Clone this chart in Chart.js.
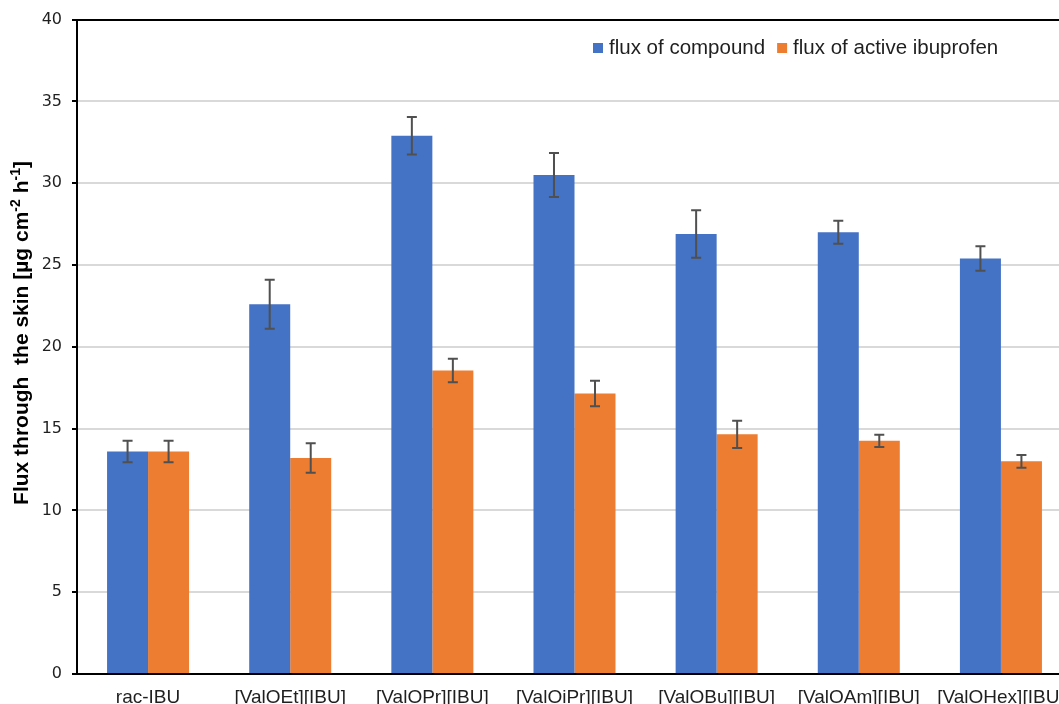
<!DOCTYPE html>
<html>
<head>
<meta charset="utf-8">
<script src="https://cdn.jsdelivr.net/npm/chart.js@4.4.1/dist/chart.umd.min.js"></script>
<style>
  html, body { margin: 0; padding: 0; background: #fff; overflow: hidden; }
  #wrap { width: 1080px; height: 704px; }
</style>
</head>
<body>
<div id="wrap"><canvas id="c" width="1080" height="704"></canvas></div>
<script>
const categories = ['rac-IBU', '[ValOEt][IBU]', '[ValOPr][IBU]', '[ValOiPr][IBU]', '[ValOBu][IBU]', '[ValOAm][IBU]', '[ValOHex][IBU]'];
const compoundFlux = [13.6, 22.6, 32.9, 30.5, 26.9, 27.0, 25.4];
const compoundErr  = [0.65, 1.5, 1.15, 1.35, 1.45, 0.7, 0.75];
const ibuFlux      = [13.6, 13.2, 18.55, 17.15, 14.65, 14.25, 13.0];
const ibuErr       = [0.65, 0.9, 0.72, 0.78, 0.83, 0.38, 0.39];
const seriesNames  = ['flux of compound', 'flux of active ibuprofen'];
const yTicks       = [0, 5, 10, 15, 20, 25, 30, 35, 40];

const BLUE = '#4472C4';
const ORANGE = '#ED7D31';
const TEXT = '#1f1f1f';

// Symmetric error bars drawn from each bar's own scale position
const errorBars = {
  id: 'errorBars',
  afterDatasetsDraw(chart) {
    const { ctx } = chart;
    const y = chart.scales.y;
    ctx.save();
    ctx.strokeStyle = '#505050';
    ctx.lineWidth = 2;
    chart.data.datasets.forEach((ds, di) => {
      const meta = chart.getDatasetMeta(di);
      meta.data.forEach((bar, i) => {
        const v = ds.data[i], e = ds.errors[i];
        const yt = y.getPixelForValue(v + e), yb = y.getPixelForValue(v - e);
        const x = bar.x, cap = 5;
        ctx.beginPath();
        ctx.moveTo(x, yt); ctx.lineTo(x, yb);
        ctx.moveTo(x - cap, yt); ctx.lineTo(x + cap, yt);
        ctx.moveTo(x - cap, yb); ctx.lineTo(x + cap, yb);
        ctx.stroke();
      });
    });
    ctx.restore();
  }
};

// Legend inside the plot area, top right
const insideLegend = {
  id: 'insideLegend',
  afterDraw(chart) {
    const { ctx } = chart;
    ctx.save();
    ctx.font = '20.5px "Liberation Sans", Arial, sans-serif';
    ctx.textBaseline = 'middle';
    ctx.fillStyle = TEXT;
    let x = 593;
    const yMid = 48;
    chart.data.datasets.forEach((ds) => {
      ctx.fillStyle = ds.backgroundColor;
      ctx.fillRect(x, yMid - 5, 10, 10);
      ctx.fillStyle = TEXT;
      ctx.fillText(ds.label, x + 16, yMid);
      x += 16 + ctx.measureText(ds.label).width + 12;
    });
    ctx.restore();
  }
};

// Vertical axis title with superscript exponents
const yTitle = {
  id: 'yTitle',
  afterDraw(chart) {
    const { ctx } = chart;
    const parts = [
      ['Flux through  the skin [µg cm', false],
      ['-2', true],
      [' h', false],
      ['-1', true],
      [']', false]
    ];
    const base = 'bold 21px "Liberation Sans", Arial, sans-serif';
    const sup = 'bold 14px "Liberation Sans", Arial, sans-serif';
    ctx.save();
    let total = 0;
    parts.forEach(([t, s]) => { ctx.font = s ? sup : base; total += ctx.measureText(t).width; });
    ctx.translate(28, 333);
    ctx.rotate(-Math.PI / 2);
    ctx.fillStyle = '#000';
    ctx.textBaseline = 'alphabetic';
    let x = -total / 2;
    parts.forEach(([t, s]) => {
      ctx.font = s ? sup : base;
      ctx.fillText(t, x, s ? -8 : 0);
      x += ctx.measureText(t).width;
    });
    ctx.restore();
  }
};

new Chart(document.getElementById('c'), {
  type: 'bar',
  data: {
    labels: categories,
    datasets: [
      { label: seriesNames[0], data: compoundFlux, errors: compoundErr, backgroundColor: BLUE },
      { label: seriesNames[1], data: ibuFlux, errors: ibuErr, backgroundColor: ORANGE }
    ]
  },
  options: {
    responsive: false,
    animation: false,
    devicePixelRatio: 1,
    layout: { padding: { top: 18, right: 8, bottom: 0, left: 0 } },
    categoryPercentage: 0.577,
    barPercentage: 1.0,
    plugins: { legend: { display: false }, tooltip: { enabled: false } },
    scales: {
      x: {
        grid: { display: false, drawTicks: false },
        border: { color: '#000', width: 2 },
        ticks: {
          color: TEXT,
          font: { family: '"Liberation Sans", Arial, sans-serif', size: 19 },
          padding: 12,
          maxRotation: 0,
          autoSkip: false
        },
        afterFit(scale) { scale.height = 30; }
      },
      y: {
        min: 0, max: 40,
        afterBuildTicks(scale) { scale.ticks = yTicks.map(v => ({ value: v })); },
        grid: {
          color: c => (c.tick && c.tick.value === 40) ? '#000' : '#d9d9d9',
          lineWidth: 2,
          tickColor: '#000',
          tickLength: 5
        },
        border: { color: '#000', width: 2 },
        ticks: {
          color: TEXT,
          font: { family: '"DejaVu Sans", Verdana, sans-serif', size: 16 },
          padding: 10
        },
        afterFit(scale) { scale.width = 77; }
      }
    }
  },
  plugins: [errorBars, insideLegend, yTitle]
});
</script>
</body>
</html>
